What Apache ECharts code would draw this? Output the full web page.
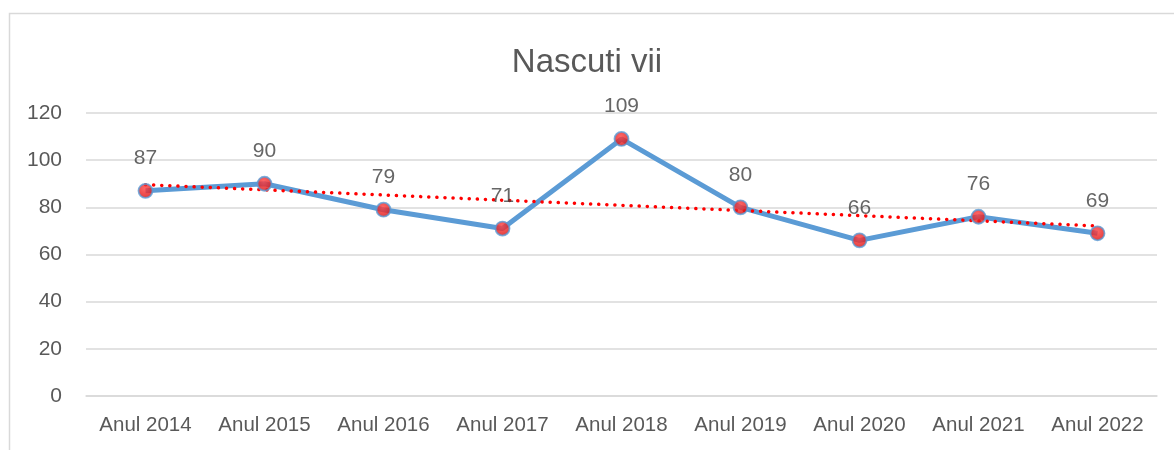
<!DOCTYPE html>
<html>
<head>
<meta charset="utf-8">
<script src="https://cdn.jsdelivr.net/npm/echarts@6/dist/echarts.min.js"></script>
<style>
html,body{margin:0;padding:0;background:#fff;}
#chart{width:1174px;height:450px;}
</style>
</head>
<body>
<div id="chart"></div>
<script>
var titleText = 'Nascuti vii';
var categories = ['Anul 2014','Anul 2015','Anul 2016','Anul 2017','Anul 2018','Anul 2019','Anul 2020','Anul 2021','Anul 2022'];
var values = [87, 90, 79, 71, 109, 80, 66, 76, 69];
// trendline endpoints (first and last category)
var trendStart = 89.6;
var trendEnd = 72.1;
var yTicks = [0, 20, 40, 60, 80, 100, 120];

var FONT = '"Liberation Sans", Arial, sans-serif';
var chart = echarts.init(document.getElementById('chart'));
chart.setOption({
  animation: false,
  backgroundColor: '#fff',
  graphic: [{
    type: 'rect',
    shape: {x: 9.5, y: 13.5, width: 1300, height: 600},
    style: {fill: 'none', stroke: '#D9D9D9', lineWidth: 1.5},
    silent: true, z: -10
  }],
  title: {
    text: titleText,
    left: 'center',
    top: 41,
    textStyle: {fontFamily: FONT, fontSize: 33, fontWeight: 'normal', color: '#595959'}
  },
  grid: {left: 86, right: 17, top: 113, bottom: 54},
  xAxis: {
    type: 'category',
    data: categories,
    boundaryGap: true,
    axisLine: {show: true, lineStyle: {color: '#D9D9D9', width: 1.5}},
    axisTick: {show: false},
    axisLabel: {fontFamily: FONT, fontSize: 20.5, color: '#595959', margin: 19, interval: 0}
  },
  yAxis: {
    type: 'value',
    min: yTicks[0],
    max: yTicks[yTicks.length - 1],
    interval: yTicks[1] - yTicks[0],
    axisLine: {show: false},
    axisTick: {show: false},
    splitLine: {lineStyle: {color: '#D9D9D9', width: 1.5}},
    axisLabel: {fontFamily: FONT, fontSize: 21, color: '#595959', margin: 24}
  },
  series: [
    {
      type: 'line',
      data: values,
      z: 2,
      showSymbol: false,
      symbol: 'none',
      lineStyle: {color: '#5B9BD5', width: 5},
      silent: true
    },
    {
      type: 'line',
      data: [[categories[0], trendStart], [categories[categories.length - 1], trendEnd]],
      z: 3,
      symbol: 'none',
      lineStyle: {color: '#FF0000', width: 3.5, type: [0.1, 8], cap: 'round'},
      silent: true
    },
    {
      type: 'scatter',
      data: values,
      z: 4,
      symbol: 'circle',
      symbolSize: 14,
      itemStyle: {
        color: {
          type: 'radial', x: 0.45, y: 0.35, r: 0.75,
          colorStops: [{offset: 0, color: '#FF4040'}, {offset: 0.6, color: '#E51C1C'}, {offset: 1, color: '#B00808'}]
        },
        borderColor: '#5B9BD5',
        borderWidth: 1.8
      },
      label: {
        show: true,
        position: 'top',
        distance: 14,
        fontFamily: FONT,
        fontSize: 21,
        color: '#404040'
      },
      silent: true
    }
  ]
});
</script>
</body>
</html>
